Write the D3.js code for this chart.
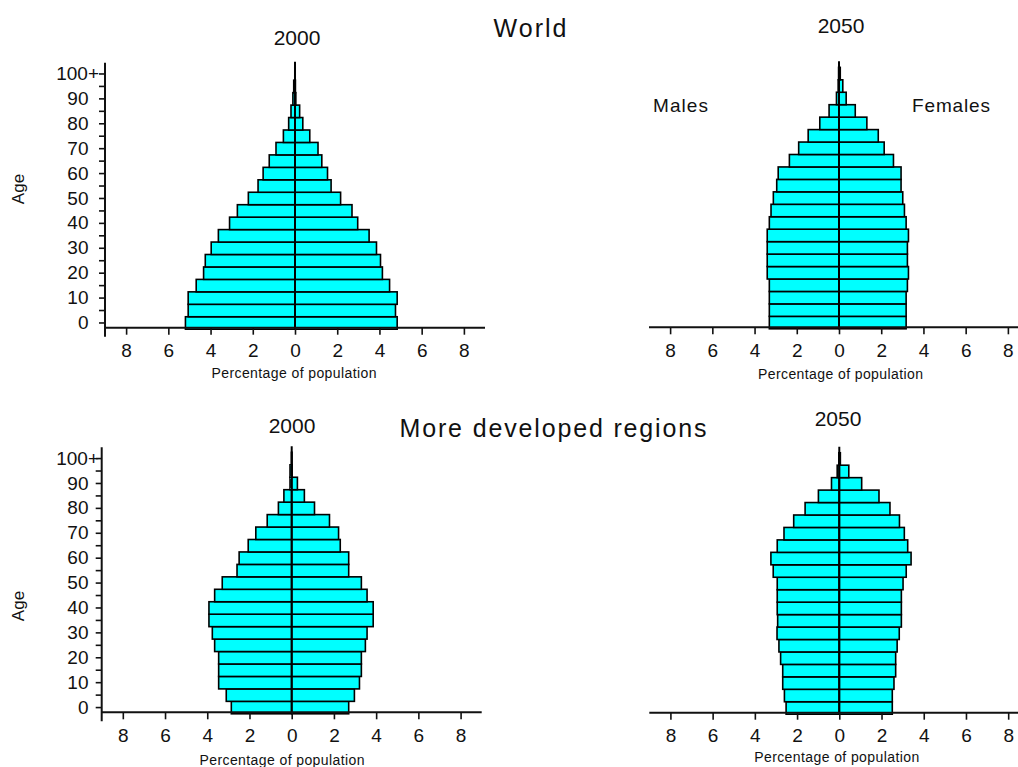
<!DOCTYPE html>
<html>
<head>
<meta charset="utf-8">
<script src="https://cdn.jsdelivr.net/npm/d3@7"></script>
<style>
  html, body { margin: 0; padding: 0; background: #fff; }
  svg { display: block; }
  text { font-family: "Liberation Sans", Arial, sans-serif; fill: #111; }
</style>
</head>
<body>
<svg id="chart" width="1018" height="767"></svg>
<script>
// ---------- DATA ----------
const ageGroups = ["0-4","5-9","10-14","15-19","20-24","25-29","30-34","35-39","40-44","45-49",
  "50-54","55-59","60-64","65-69","70-74","75-79","80-84","85-89","90-94","95-99","100+"];
const labeledGroups = ["0-4","10-14","20-24","30-34","40-44","50-54","60-64","70-74","80-84","90-94","100+"];
const yTickLabels = ["0","10","20","30","40","50","60","70","80","90","100+"];
const xTickValues = [-8,-6,-4,-2,0,2,4,6,8];

const worldMales2000   = [5.19,5.06,5.06,4.68,4.33,4.25,3.97,3.63,3.10,2.73,2.21,1.75,1.51,1.22,0.90,0.55,0.30,0.19,0.10,0.06,0.01];
const worldFemales2000 = [4.84,4.76,4.84,4.48,4.14,4.05,3.86,3.51,2.97,2.70,2.16,1.71,1.54,1.27,1.09,0.70,0.37,0.22,0.04,0.02,0.01];
const worldMales2050   = [3.30,3.30,3.30,3.30,3.40,3.40,3.40,3.40,3.30,3.22,3.11,2.95,2.88,2.35,1.91,1.46,0.91,0.47,0.12,0.04,0.02];
const worldFemales2050 = [3.18,3.18,3.18,3.24,3.29,3.24,3.24,3.29,3.18,3.10,3.02,2.94,2.94,2.58,2.14,1.86,1.32,0.77,0.34,0.18,0.06];
const devMales2000     = [2.86,3.10,3.46,3.46,3.46,3.65,3.76,3.92,3.92,3.65,3.29,2.59,2.49,2.06,1.70,1.16,0.63,0.37,0.08,0.08,0.01];
const devFemales2000   = [2.70,2.97,3.21,3.30,3.30,3.49,3.57,3.86,3.86,3.57,3.30,2.70,2.70,2.30,2.22,1.79,1.08,0.60,0.27,0.02,0.01];
const devMales2050     = [2.52,2.60,2.68,2.68,2.78,2.86,2.95,2.92,2.94,2.94,2.94,3.13,3.24,2.94,2.62,2.16,1.62,0.99,0.37,0.10,0.02];
const devFemales2050   = [2.51,2.51,2.59,2.67,2.67,2.74,2.84,2.94,2.94,2.94,3.02,3.17,3.40,3.24,3.08,2.85,2.40,1.88,1.06,0.45,0.05];

const regionTitles = ["World", "More developed regions"];
const yearLabels = ["2000", "2050", "2000", "2050"];
const sexLabels = ["Males", "Females"];
const xAxisTitle = "Percentage of population";
const yAxisTitle = "Age";

// ---------- LAYOUT ----------
const svg = d3.select("#chart");
const halfW = 190;          // 9 units each side
const step = 12.45;
const panels = [
  { males: worldMales2000, females: worldFemales2000, cx: 295,   axisY: 327.7, yAxis: true,
    year: yearLabels[0], yearX: 297, yearY: 45, xlX: 294, xlY: 378, ageY: 189 },
  { males: worldMales2050, females: worldFemales2050, cx: 839,   axisY: 327.3, yAxis: false,
    year: yearLabels[1], yearX: 841, yearY: 33, xlX: 840.5, xlY: 379 },
  { males: devMales2000,   females: devFemales2000,   cx: 291.7, axisY: 712.3, yAxis: true,
    year: yearLabels[2], yearX: 292, yearY: 433, xlX: 282, xlY: 765, ageY: 606 },
  { males: devMales2050,   females: devFemales2050,   cx: 839.3, axisY: 712.7, yAxis: false,
    year: yearLabels[3], yearX: 838, yearY: 426, xlX: 836.7, xlY: 762 }
];

panels.forEach(p => {
  const g = svg.append("g");
  const x = d3.scaleLinear().domain([-9, 9]).range([p.cx - halfW, p.cx + halfW]);
  const bottom = p.axisY + 1.5;
  const top = bottom - step * ageGroups.length;
  const y = d3.scaleBand().domain(ageGroups).range([bottom, top]).padding(0);

  const rows = ageGroups.map((a, i) => ({ age: a, m: p.males[i], f: p.females[i] }));

  // male bars
  g.selectAll("rect.m").data(rows).join("rect")
    .attr("x", d => x(-d.m)).attr("y", d => y(d.age))
    .attr("width", d => x(0) - x(-d.m)).attr("height", y.bandwidth())
    .attr("fill", "#00ffff").attr("stroke", "#000").attr("stroke-width", 1.6);
  // female bars
  g.selectAll("rect.f").data(rows).join("rect")
    .attr("x", x(0)).attr("y", d => y(d.age))
    .attr("width", d => x(d.f) - x(0)).attr("height", y.bandwidth())
    .attr("fill", "#00ffff").attr("stroke", "#000").attr("stroke-width", 1.6);

  // centre line
  g.append("line").attr("x1", x(0)).attr("x2", x(0))
    .attr("y1", top - 6).attr("y2", p.axisY)
    .attr("stroke", "#000").attr("stroke-width", 2);

  // x axis
  const xa = g.append("g").attr("transform", `translate(0,${p.axisY})`)
    .call(d3.axisBottom(x).tickValues(xTickValues).tickFormat(v => Math.abs(v))
      .tickSize(7).tickPadding(9));
  xa.select(".domain").remove();
  xa.selectAll(".tick line").attr("stroke", "#111").attr("stroke-width", 1.6);
  xa.selectAll(".tick text").attr("font-size", 19).attr("fill", "#111")
    .style("font-family", "'Liberation Sans', Arial, sans-serif");
  g.append("line").attr("x1", x(-9)).attr("x2", x(9))
    .attr("y1", p.axisY).attr("y2", p.axisY)
    .attr("stroke", "#111").attr("stroke-width", 2);

  // x axis title
  g.append("text").attr("x", p.xlX).attr("y", p.xlY)
    .attr("text-anchor", "middle").attr("font-size", 14)
    .attr("textLength", 165).attr("lengthAdjust", "spacing")
    .attr("fill", "#000").text(xAxisTitle);

  if (p.yAxis) {
    const ax = x(-9);
    g.append("line").attr("x1", ax).attr("x2", ax)
      .attr("y1", top - 5).attr("y2", p.axisY + 9)
      .attr("stroke", "#111").attr("stroke-width", 2);
    const ya = g.append("g").attr("transform", `translate(${ax},0)`)
      .call(d3.axisLeft(y).tickSize(6).tickPadding(ax - 88.5 - 6)
        .tickFormat(a => { const k = labeledGroups.indexOf(a); return k >= 0 ? yTickLabels[k] : ""; }));
    ya.select(".domain").remove();
    ya.selectAll(".tick line").attr("stroke", "#111").attr("stroke-width", 1.6);
    ya.selectAll(".tick text").attr("font-size", 19).attr("fill", "#111")
      .style("font-family", "'Liberation Sans', Arial, sans-serif")
      .attr("dx", t => (String(t).endsWith("+") ? 10.5 : 0));
    ya.selectAll(".tick text").attr("dx", function () {
      return this.textContent.endsWith("+") ? 10.5 : 0;
    });
    // y axis title
    g.append("text").attr("transform", `translate(24,${p.ageY}) rotate(-90)`)
      .attr("text-anchor", "middle").attr("font-size", 17).text(yAxisTitle);
  }

  // year label
  g.append("text").attr("x", p.yearX).attr("y", p.yearY)
    .attr("text-anchor", "middle").attr("font-size", 21).text(p.year);
});

// region titles
svg.append("text").attr("x", 530).attr("y", 37).attr("text-anchor", "middle")
  .attr("font-size", 25).attr("textLength", 73).attr("lengthAdjust", "spacing")
  .text(regionTitles[0]);
svg.append("text").attr("x", 553).attr("y", 437).attr("text-anchor", "middle")
  .attr("font-size", 25).attr("textLength", 307).attr("lengthAdjust", "spacing")
  .text(regionTitles[1]);

// sex labels
svg.append("text").attr("x", 653).attr("y", 111.5).attr("font-size", 19)
  .attr("textLength", 55).attr("lengthAdjust", "spacing").text(sexLabels[0]);
svg.append("text").attr("x", 912).attr("y", 111.5).attr("font-size", 19)
  .attr("textLength", 78).attr("lengthAdjust", "spacing").text(sexLabels[1]);
</script>
</body>
</html>
